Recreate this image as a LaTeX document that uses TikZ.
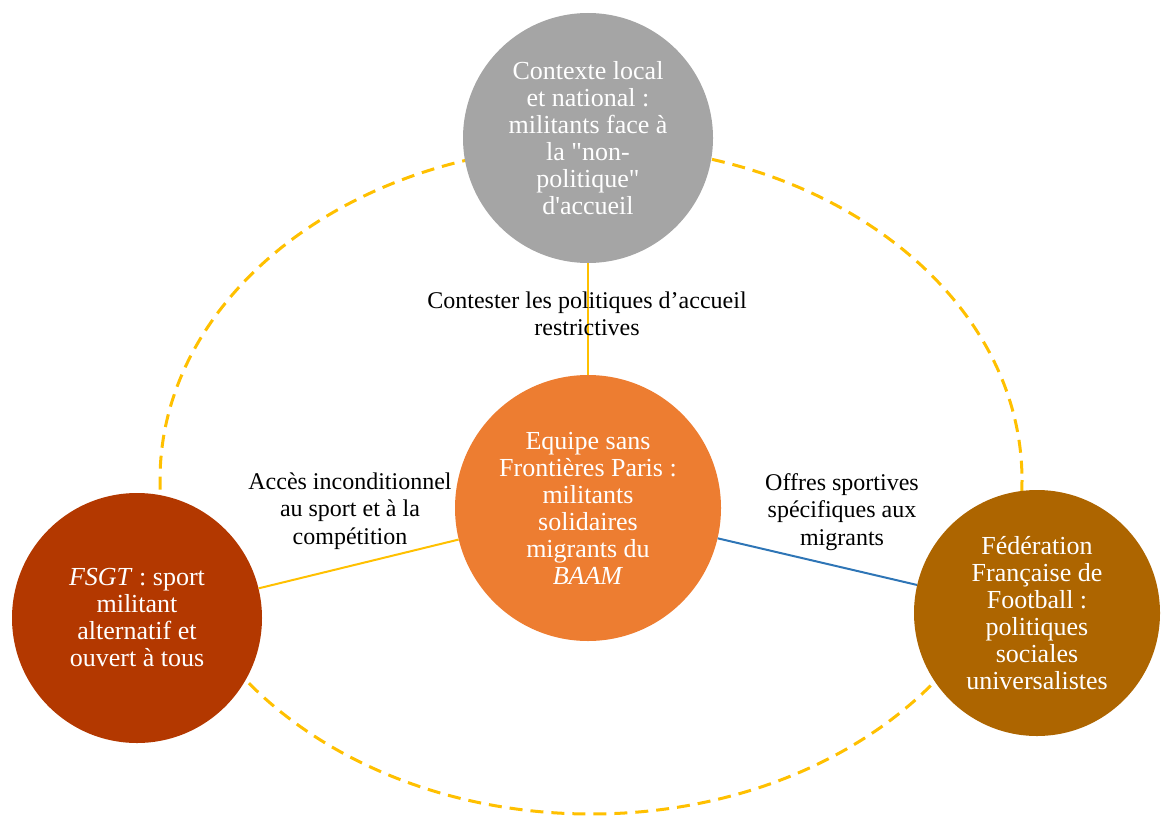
\documentclass[tikz,border=0pt]{standalone}
\usepackage{fontspec}
\setmainfont{Liberation Serif}[Ligatures=TeXOff]
\definecolor{ringyellow}{HTML}{FFC000}
\definecolor{linkblue}{HTML}{2E75B6}
\definecolor{topgray}{HTML}{A5A5A5}
\definecolor{midorange}{HTML}{ED7D31}
\definecolor{leftred}{RGB}{179,56,0}
\definecolor{rightbrown}{RGB}{173,101,0}
\tikzset{
  bubble/.style={circle, inner sep=0pt, text=white, align=center,
    font=\fontsize{26}{27}\selectfont},
  linklabel/.style={align=center, text=black, inner sep=0pt,
    font=\fontsize{24}{27.5}\selectfont},
  linkline/.style={line width=2pt},
}
\begin{document}
\begin{tikzpicture}[x=1pt,y=-1pt]
\useasboundingbox (0,0) rectangle (1161,816);
% dashed ring
\draw[ringyellow, line width=3pt, dash pattern=on 13pt off 8pt] (591,480) ellipse [x radius=431, y radius=334];
% circles
\node[bubble, fill=topgray, minimum size=250pt] (ctx) at (588,138)
  {Contexte local\\et national :\\militants face à\\la "non-\\politique"\\d'accueil};
\node[bubble, fill=midorange, minimum size=266pt] (esf) at (588,508)
  {Equipe sans\\Frontières Paris :\\militants\\solidaires\\migrants du\\\textit{BAAM}};
\node[bubble, fill=leftred, minimum size=250pt] (fsgt) at (137,618)
  {\textit{FSGT} : sport\\militant\\alternatif et\\ouvert à tous};
\node[bubble, fill=rightbrown, minimum size=246pt] (fff) at (1037,613)
  {Fédération\\Française de\\Football :\\politiques\\sociales\\universalistes};
% connectors
\draw[linkline, ringyellow] (ctx) -- (esf);
\draw[linkline, ringyellow] (esf) -- (fsgt);
\draw[linkline, linkblue] (esf) -- (fff);
% labels
\node[linklabel] (lbtop) at (587,314) {Contester les politiques d’accueil\\restrictives};
\node[linklabel] (lbleft) at (350,511) {Accès inconditionnel\\au sport et à la\\compétition};
\node[linklabel] (lbright) at (842,512) {Offres sportives\\spécifiques aux\\migrants};
\end{tikzpicture}
\end{document}
